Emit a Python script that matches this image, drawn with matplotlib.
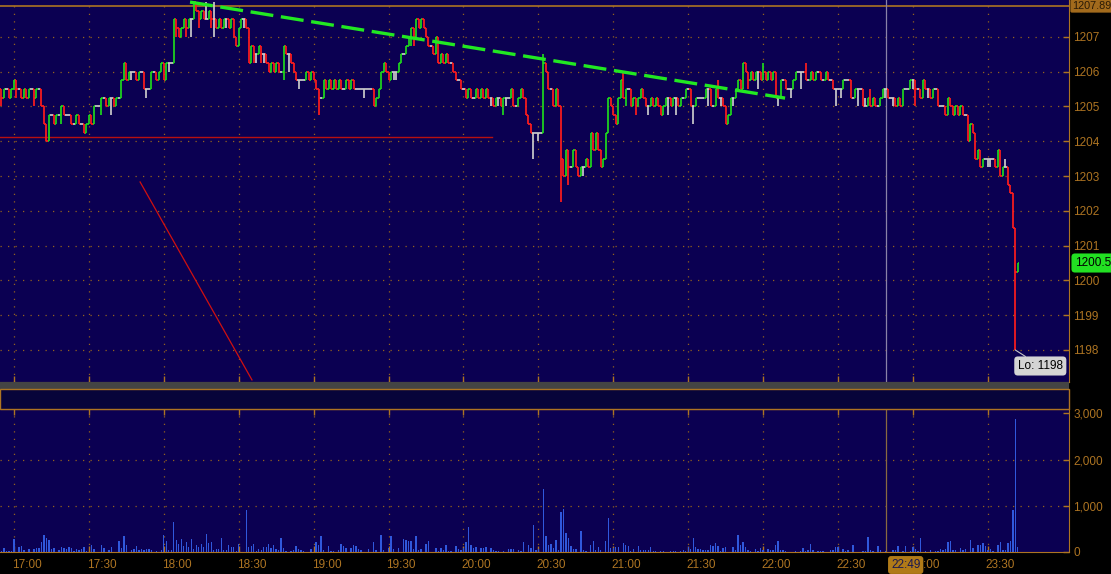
import numpy as np
import matplotlib

matplotlib.use("Agg")
import matplotlib.pyplot as plt
from matplotlib.collections import LineCollection
from matplotlib.patches import Rectangle

plt.rcParams["font.family"] = ["Liberation Sans", "DejaVu Sans"]

# one bar per minute, first bar = 16:55; prices in quarter-point ticks above BASE
BASE = 1198.0
OPEN0 = 30
CLOSE = [
    29, 30, 30, 29, 30, 31, 30, 30, 29, 30, 29, 30, 30, 29, 30, 30,
    28, 26, 24, 27,
    27, 26, 27, 27, 28, 27, 27, 27, 26, 26, 27, 26, 26, 25, 26, 27, 26, 28,
    28, 28, 29, 29, 28, 29, 29, 28, 29,
    29, 31, 33,
    31, 32, 32, 32, 31, 32, 32, 30, 30, 30,
    32, 32, 31, 32, 33, 31, 33, 33, 33,
    38,
    37, 36, 37, 38, 37, 38, 38, 40, 39, 38, 39, 38, 38, 39, 38, 38, 37, 38, 37, 38,
    38, 37, 38, 36, 35, 37, 38, 38, 37,
    33,
    35, 34, 34, 35, 34, 34, 33, 32, 33, 32, 33, 32, 32, 35,
    34, 34, 33, 32, 31, 31, 31,
    31, 32, 31, 32, 31,
    30, 29, 29,
    31, 30, 31, 30, 31, 30,
    31, 30, 30, 31, 30, 31, 30, 30, 30, 30, 30,
    30, 30, 30, 28, 29, 30, 32,
    33, 32, 31, 32, 32, 32, 33, 34, 34,
    35, 36, 37, 36, 38, 37, 38, 37, 36,
    35, 35, 34, 36, 33, 34, 33, 34, 33, 33,
    32, 31, 31, 30, 30, 29, 30, 29, 29, 30, 29, 30,
    29, 30, 29, 29, 28, 29, 29, 28, 29, 29, 29, 30, 28,
    28, 29, 30,
    29, 27, 26, 25, 25, 25, 25,
    25, 33, 32, 30, 30, 28, 30, 28, 22, 20, 23, 21, 21, 23, 21, 20, 21, 21, 22, 21, 25,
    23, 25, 23, 21, 22, 25, 29,
    28, 27, 26, 29,
    31, 29, 30, 30,
    28, 29, 28, 29, 30, 29, 28, 28, 29, 28, 29, 28, 27, 28, 29,
    29, 28, 29, 29, 28, 29, 29, 30, 30,
    28, 28, 29, 29, 29,
    29, 30, 30, 28, 28,
    30, 29, 29, 28, 26,
    27, 29, 29, 30, 31, 30, 33,
    32, 31, 32, 31, 32, 32, 31,
    32, 31, 32, 31, 32, 29,
    29, 31, 31, 30,
    30, 30, 31, 32, 32, 32, 32, 31, 31, 32, 31,
    32, 32, 31, 31, 32, 31,
    31, 30, 30, 30, 30,
    31, 31, 31, 29,
    29, 30, 30, 30,
    28, 28, 29, 28, 29, 28, 28,
    29, 30, 30,
    29, 29, 29, 28, 29, 28, 30, 30,
    30, 31, 31, 30, 30, 29, 31, 30, 30, 29, 30,
    30, 28,
    28, 28, 27, 29, 28,
    27, 28, 27, 28, 27, 27, 24,
    26, 25, 22, 23, 21,
    22, 22, 22, 22, 22, 21, 23,
    20, 21, 21, 19, 18,
    14, 9, 10,
]
# wicks beyond open/close (bar index -> tick)
HIGH_EXT = {0: 30, 77: 40, 82: 40, 85: 40, 166: 38, 217: 34, 249: 32, 287: 31,
            305: 33, 322: 33, 346: 29, 348: 30, 402: 22, 405: 17}
LOW_EXT = {0: 28, 6: 29, 9: 29, 13: 28, 24: 26, 40: 27, 44: 27, 52: 31, 58: 29,
           67: 32, 70: 36, 72: 36, 74: 36, 76: 36, 79: 37, 84: 37, 85: 36, 90: 37,
           97: 37, 101: 33, 102: 33, 104: 33, 105: 33, 113: 31, 115: 32, 119: 30,
           127: 27, 137: 30, 143: 30, 145: 29, 157: 31, 158: 31, 164: 35, 165: 35,
           196: 28, 199: 28, 201: 27, 202: 28, 213: 22, 215: 24, 224: 17, 227: 19,
           232: 20, 233: 20, 250: 28, 254: 27, 259: 27, 267: 27, 270: 27, 277: 26,
           283: 28, 288: 28, 293: 28, 299: 30, 303: 30, 311: 28, 316: 29, 320: 30,
           334: 28, 336: 29, 343: 28, 347: 28, 354: 29, 357: 28, 365: 30, 366: 28,
           369: 29, 371: 29, 377: 28, 380: 28, 393: 21, 395: 21, 396: 21, 402: 21,
           406: 0}
VOLUME = [
    30, 80, 20, 30, 20, 285, 0, 117, 130, 45, 0, 65, 0, 65, 88, 88, 220, 372, 306, 263,
    65, 88, 0, 45, 110, 88, 65, 110, 88, 20, 65, 45, 65, 110, 20, 0, 153, 65, 0, 0,
    153, 88, 0, 45, 110, 0, 0, 240, 88, 350, 153, 0, 45, 65, 130, 45, 65, 45, 65, 65,
    45, 0, 20, 0, 45, 370, 240, 45, 45, 640, 263, 175, 285, 130, 220, 110, 285, 65, 153, 110,
    175, 110, 394, 197, 220, 45, 65, 65, 306, 45, 45, 153, 110, 110, 20, 175, 0, 0, 898, 110,
    130, 175, 20, 65, 45, 110, 110, 175, 88, 153, 65, 45, 306, 88, 20, 0, 20, 45, 130, 65,
    50, 30, 0, 0, 65, 0, 217, 152, 348, 45, 0, 130, 20, 20, 0, 45, 174, 130, 88, 0,
    88, 152, 130, 65, 45, 0, 0, 65, 0, 217, 45, 0, 370, 45, 0, 88, 348, 65, 0, 88,
    0, 283, 261, 240, 240, 65, 348, 45, 65, 0, 174, 240, 0, 0, 88, 20, 88, 45, 152, 20,
    20, 0, 130, 65, 45, 88, 217, 544, 152, 88, 110, 0, 88, 88, 110, 0, 88, 45, 20, 20,
    0, 20, 0, 65, 65, 65, 0, 45, 20, 217, 0, 152, 88, 587, 45, 65, 0, 1370, 348, 152,
    174, 88, 261, 45, 870, 935, 420, 297, 130, 65, 65, 0, 457, 45, 20, 0, 152, 240, 45, 110,
    45, 0, 240, 745, 88, 88, 110, 110, 0, 197, 150, 130, 20, 65, 0, 130, 45, 45, 45, 45,
    110, 20, 20, 0, 20, 20, 0, 0, 20, 20, 20, 0, 20, 45, 20, 110, 65, 307, 110, 65,
    65, 45, 45, 45, 153, 130, 197, 130, 20, 88, 110, 0, 0, 110, 45, 372, 153, 219, 110, 45,
    20, 0, 65, 20, 88, 45, 0, 65, 45, 45, 153, 240, 45, 45, 20, 0, 0, 0, 20, 0,
    20, 88, 20, 45, 175, 45, 0, 20, 20, 20, 0, 0, 45, 45, 110, 110, 0, 65, 20, 45,
    0, 153, 0, 0, 0, 20, 20, 330, 45, 20, 0, 130, 45, 0, 20, 0, 0, 45, 45, 130,
    0, 20, 130, 0, 20, 110, 65, 20, 297, 0, 20, 0, 45, 0, 20, 20, 65, 45, 65, 217,
    232, 45, 45, 0, 88, 45, 65, 0, 254, 88, 0, 152, 152, 190, 130, 45, 65, 20, 0, 152,
    210, 45, 45, 190, 232, 906, 2885, 100,
]
TIME_LABELS = ["17:00", "17:30", "18:00", "18:30", "19:00", "19:30", "20:00",
               "20:30", "21:00", "21:30", "22:00", "22:30", "23:00", "23:30"]
FIRST_TICK = 5            # bar index of 17:00
PRICE_TICKS = list(range(1198, 1208))
VOL_TICKS = [0, 1000, 2000, 3000]
SESSION_HIGH = 1207.89
LAST_PRICE = 1200.5
LOW_PRICE = 1198
SUPPORT = 1204.13
SUPPORT_END = 196.5
TREND = [(75.5, 1208.0), (313.8, 1205.24)]
DIAG = [(55.5, 1202.83), (100.3, 1197.14)]
CURSOR = 354.4            # 22:49

NAVY = "#0b0052"
ORANGE = "#ad7422"
GRID = "#94621e"
GREEN, RED, WHITE = "#1ed81e", "#ff1c1c", "#cacaca"
W, H = 1111, 574
FS = 8.5


def rect(x0, y0, x1, y1):
    return [x0 / W, 1 - y1 / H, (x1 - x0) / W, (y1 - y0) / H]


close = BASE + np.array(CLOSE) / 4
opn = np.r_[BASE + OPEN0 / 4, close[:-1]]
x = np.arange(len(close))
high = np.maximum(opn, close)
low = np.minimum(opn, close)
for i, t in HIGH_EXT.items():
    high[i] = max(high[i], BASE + t / 4)
for i, t in LOW_EXT.items():
    low[i] = min(low[i], BASE + t / 4)

fig = plt.figure(figsize=(W / 100, H / 100), dpi=100, facecolor="black")
ax = fig.add_axes(rect(0, 0, 1069, 382), facecolor=NAVY)
axv = fig.add_axes(rect(0, 409, 1069, 552), facecolor=NAVY)

# separator strip + dark band between the panels
fig.patches.append(Rectangle((0, 1 - 389 / H), 1069 / W, 7 / H, transform=fig.transFigure,
                             facecolor="#444444", edgecolor="none"))
fig.patches.append(Rectangle((0, 1 - 409 / H), 1069 / W, 20 / H, transform=fig.transFigure,
                             facecolor="#07043a", edgecolor=ORANGE, lw=1))

xmin, xmax = -0.6, 427.5
half_hours = [FIRST_TICK + 30 * k for k in range(len(TIME_LABELS))]
dots = (0, (1, 5))

# price panel
for p in PRICE_TICKS:
    ax.axhline(p, color=GRID, lw=0.9, ls=dots, zorder=1)
for t in half_hours:
    ax.axvline(t, color=GRID, lw=0.9, ls=dots, zorder=1)

segs, cols = [], []
for i in x:
    c = GREEN if close[i] > opn[i] else RED if close[i] < opn[i] else WHITE
    segs += [[(i, low[i]), (i, high[i])], [(i - 0.5, opn[i]), (i, opn[i])],
             [(i, close[i]), (i + 0.5, close[i])]]
    cols += [c, c, c]
ax.add_collection(LineCollection(segs, colors=cols, linewidths=1.25, capstyle="butt", zorder=3))

ax.axhline(SESSION_HIGH, color=ORANGE, lw=1.2, zorder=2)
ax.plot([xmin, SUPPORT_END], [SUPPORT, SUPPORT], color="#b81010", lw=1.0, zorder=2)
ax.plot(*zip(*DIAG), color="#d01010", lw=0.9, zorder=2)
ax.plot(*zip(*TREND), color="#22e822", lw=2.4, dashes=(6.9, 2.3), zorder=4)
ax.axvline(CURSOR, color="#8a82a8", lw=0.9, zorder=2)

ax.set_xlim(xmin, xmax)
ax.set_ylim(1197.08, 1208.06)
ax.set_yticks(PRICE_TICKS)
ax.set_yticklabels([str(p) for p in PRICE_TICKS])
ax.yaxis.set_ticks_position("right")
ax.tick_params(axis="y", direction="in", length=4, width=1, color=ORANGE,
               labelcolor=ORANGE, labelsize=FS, pad=3)
ax.set_xticks(half_hours)
ax.tick_params(axis="x", direction="in", length=4.5, width=1, color=ORANGE, labelbottom=False)
for s in ("left", "top"):
    ax.spines[s].set_visible(False)
for s in ("right", "bottom"):
    ax.spines[s].set_color(ORANGE)

ax.annotate(f"Lo: {LOW_PRICE}", xy=(406, LOW_PRICE), xytext=(25, -16), textcoords="offset pixels",
            ha="center", va="center", fontsize=FS, color="black",
            bbox=dict(boxstyle="round,pad=0.3", fc="#d4d4d4", ec="none"),
            arrowprops=dict(arrowstyle="-", color="#c8c8c8", lw=0.8, shrinkA=0, shrinkB=0), zorder=6)

# volume panel
for v in VOL_TICKS[1:3]:
    axv.axhline(v, color=GRID, lw=0.9, ls=dots, zorder=1)
for t in half_hours:
    axv.axvline(t, color=GRID, lw=0.9, ls=dots, zorder=1)
axv.bar(x, VOLUME, width=0.55, color="#3058dc", zorder=3)
axv.axvline(CURSOR, color="#8a6a40", lw=0.9, zorder=2)
axv.set_xlim(xmin, xmax)
axv.set_ylim(0, 3092)
axv.set_yticks(VOL_TICKS)
axv.set_yticklabels([f"{v:,}" for v in VOL_TICKS])
axv.yaxis.set_ticks_position("right")
axv.tick_params(axis="y", direction="in", length=4, width=1, color=ORANGE,
                labelcolor=ORANGE, labelsize=FS, pad=3)
axv.set_xticks(half_hours)
axv.tick_params(axis="x", direction="in", length=4.5, width=1, color=ORANGE,
                top=True, labelbottom=False)
axv.spines["left"].set_visible(False)
for s in ("right", "bottom", "top"):
    axv.spines[s].set_color(ORANGE)

for t, lab in zip(half_hours, TIME_LABELS):
    axv.annotate(lab, xy=(t, 0), xycoords=("data", "axes fraction"), xytext=(-2, -13),
                 textcoords="offset pixels", ha="left", va="center", fontsize=FS, color=ORANGE)

# value bubbles on the right edge and cursor time
fig.text(1072 / W, 1 - 6 / H, f"{SESSION_HIGH:.2f}", ha="left", va="center", fontsize=7.8,
         color="#2a1a06", bbox=dict(boxstyle="round,pad=0.15", fc="#a26a1c", ec="none"))
fig.text(1075 / W, 1 - 263 / H, f"{LAST_PRICE}", ha="left", va="center", fontsize=FS,
         color="black", bbox=dict(boxstyle="round,pad=0.3", fc="#22e022", ec="none"))
fig.text(891 / W, 1 - 565 / H, "22:49", ha="left", va="center", fontsize=FS, color="#1a1850",
         bbox=dict(boxstyle="round,pad=0.25", fc="#b07a18", ec="none"), zorder=10)

fig.savefig("out.png", dpi=100, facecolor="black")
